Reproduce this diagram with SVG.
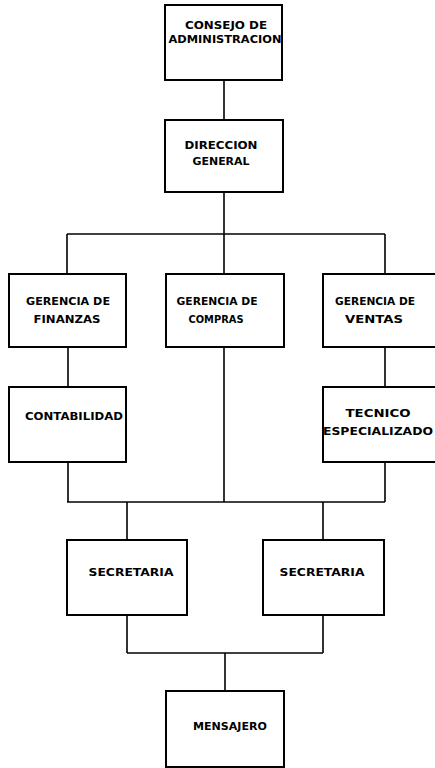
<svg xmlns="http://www.w3.org/2000/svg" width="435" height="768" viewBox="0 0 435 768">
<style>
.box{fill:#fff;stroke:#000;stroke-width:2}
.ln{fill:none;stroke:#000;stroke-width:1.6}
text{font-family:"DejaVu Sans","Liberation Sans",Arial,sans-serif;font-weight:bold;font-size:10px;fill:#000;text-anchor:middle}
</style>
<rect width="435" height="768" fill="#fff"/>
<g id="connectors" class="ln">
<path d="M224 80V120"/>
<path d="M224 192V274"/>
<path d="M67 234H385"/>
<path d="M67 234V274M385 234V274"/>
<path d="M68 347V387M385 347V387"/>
<path d="M224 347V502"/>
<path d="M68 462V502M385 462V502"/>
<path d="M67 502H385"/>
<path d="M127 502V540M323 502V540"/>
<path d="M127 615V653M323 615V653"/>
<path d="M127 653H323"/>
<path d="M225 653V691"/>
</g>
<g id="consejo">
<rect class="box" x="165" y="5" width="117" height="75"/>
<text x="226" y="29" textLength="82" lengthAdjust="spacingAndGlyphs">CONSEJO DE</text>
<text x="225" y="42.5" textLength="113" lengthAdjust="spacingAndGlyphs">ADMINISTRACION</text>
</g>
<g id="direccion">
<rect class="box" x="165" y="120" width="118" height="72"/>
<text x="221" y="149" textLength="73" lengthAdjust="spacingAndGlyphs">DIRECCION</text>
<text x="221" y="165" textLength="57" lengthAdjust="spacingAndGlyphs">GENERAL</text>
</g>
<g id="finanzas">
<rect class="box" x="9" y="274" width="117" height="73"/>
<text x="68" y="305" textLength="84" lengthAdjust="spacingAndGlyphs">GERENCIA DE</text>
<text x="67" y="323" textLength="67" lengthAdjust="spacingAndGlyphs">FINANZAS</text>
</g>
<g id="compras">
<rect class="box" x="166" y="274" width="118" height="73"/>
<text x="217" y="305" textLength="81" lengthAdjust="spacingAndGlyphs">GERENCIA DE</text>
<text x="216" y="323" textLength="55" lengthAdjust="spacingAndGlyphs">COMPRAS</text>
</g>
<g id="ventas">
<rect class="box" x="323" y="274" width="125" height="73"/>
<text x="375" y="305" textLength="80" lengthAdjust="spacingAndGlyphs">GERENCIA DE</text>
<text x="374" y="323" textLength="58" lengthAdjust="spacingAndGlyphs">VENTAS</text>
</g>
<g id="contabilidad">
<rect class="box" x="9" y="387" width="117" height="75"/>
<text x="74" y="420" textLength="98" lengthAdjust="spacingAndGlyphs">CONTABILIDAD</text>
</g>
<g id="tecnico">
<rect class="box" x="323" y="387" width="125" height="75"/>
<text x="378" y="417" textLength="65" lengthAdjust="spacingAndGlyphs">TECNICO</text>
<text x="378" y="435" textLength="110" lengthAdjust="spacingAndGlyphs">ESPECIALIZADO</text>
</g>
<g id="secretaria1">
<rect class="box" x="67" y="540" width="120" height="75"/>
<text x="131" y="576" textLength="85" lengthAdjust="spacingAndGlyphs">SECRETARIA</text>
</g>
<g id="secretaria2">
<rect class="box" x="263" y="540" width="121" height="75"/>
<text x="322" y="576" textLength="85" lengthAdjust="spacingAndGlyphs">SECRETARIA</text>
</g>
<g id="mensajero">
<rect class="box" x="166" y="691" width="118" height="76"/>
<text x="230" y="730" textLength="74" lengthAdjust="spacingAndGlyphs">MENSAJERO</text>
</g>
</svg>
